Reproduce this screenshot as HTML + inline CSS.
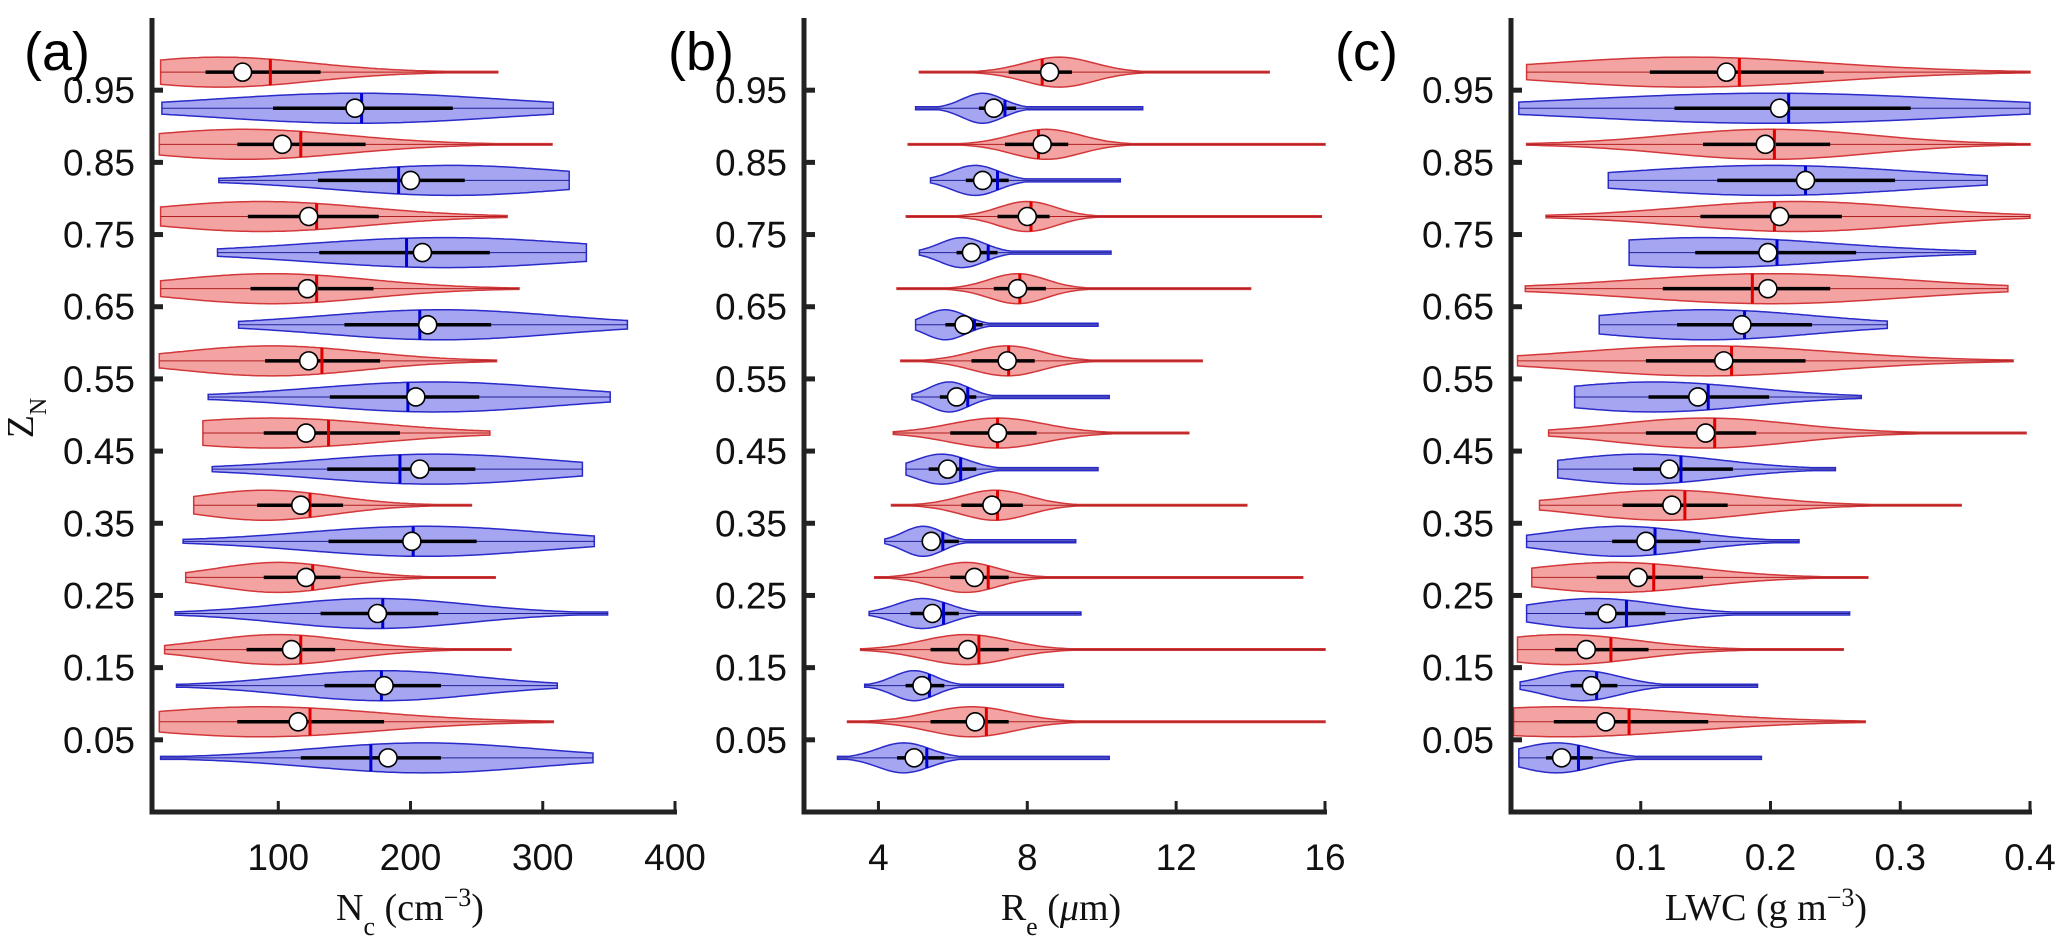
<!DOCTYPE html>
<html><head><meta charset="utf-8">
<style>
html,body{margin:0;padding:0;background:#fff;}
svg{display:block;}
.tick{font-family:"Liberation Sans",Arial,sans-serif;font-size:37px;fill:#111;}
.ax{font-family:"Liberation Serif","Times New Roman",serif;font-size:38px;fill:#111;}
.pl{font-family:"Liberation Sans",Arial,sans-serif;font-size:54px;fill:#000;}
</style></head>
<body>
<svg id="chart" width="2067" height="940" viewBox="0 0 2067 940" xmlns="http://www.w3.org/2000/svg"></svg>
<script>
// ---- data (top violin z=0.975 to bottom z=0.025; red/blue alternate) ----
const zCenters = [0.975,0.925,0.875,0.825,0.775,0.725,0.675,0.625,0.575,0.525,0.475,0.425,0.375,0.325,0.275,0.225,0.175,0.125,0.075,0.025];
const yTicks = [0.05,0.15,0.25,0.35,0.45,0.55,0.65,0.75,0.85,0.95];
const yTickLabels = ["0.05","0.15","0.25","0.35","0.45","0.55","0.65","0.75","0.85","0.95"];

// panel (a) Nc
const ncMin  = [11,12,10,55,11,54,11,70,10,47,43,50,36,28,30,22,14,23,10,11];
const ncMax  = [266,308,307,320,273,333,282,364,265,351,260,330,246,339,264,349,276,311,308,338];
const ncQ1   = [45,96,69,130,77,131,79,150,90,139,89,137,84,138,89,132,76,135,69,117];
const ncQ3   = [132,232,166,241,176,260,172,261,177,252,192,249,149,250,147,221,143,223,180,223];
const ncMed  = [94,163,117,191,129,197,129,207,133,198,138,192,124,202,126,179,117,178,124,170];
const ncMean = [73,158,103,200,123,209,122,213,123,204,121,207,117,201,121,175,110,180,115,183];
const ncMode = [56,160,74,231,87,226,95,223,95,218,95,218,90,210,100,173,100,179,87,210];
const ncTicks = [100,200,300,400];

// panel (b) Re
const reMin  = [5.1,5.0,4.8,5.4,4.75,5.1,4.5,5.0,4.6,4.9,4.4,4.74,4.35,4.17,3.9,3.75,3.52,3.63,3.17,2.9];
const reMax  = [14.5,11.1,16.0,10.5,15.9,10.25,14.0,9.9,12.7,10.2,12.34,9.9,13.9,9.3,15.4,9.44,16.0,8.97,16.0,10.2];
const reQ1   = [7.5,6.7,7.4,6.35,7.2,6.1,7.1,5.8,6.5,5.65,5.93,5.35,6.23,5.19,5.93,4.86,5.4,4.73,5.4,4.5];
const reQ3   = [9.2,7.7,9.1,7.5,8.6,7.2,8.5,6.8,8.2,6.63,8.25,6.63,7.88,6.16,7.5,6.16,7.5,5.77,7.5,5.77];
const reMed  = [8.4,7.4,8.3,7.2,8.1,6.95,7.8,6.58,7.5,6.4,7.2,6.21,7.2,5.73,6.95,5.75,6.7,5.37,6.9,5.3];
const reMean = [8.6,7.1,8.4,6.8,8.0,6.5,7.74,6.3,7.46,6.1,7.2,5.86,7.05,5.42,6.58,5.45,6.4,5.17,6.6,4.96];
const reMode = [8.86,6.8,8.5,6.6,8.0,6.25,7.74,5.8,7.46,5.9,7.2,5.7,7.14,5.2,6.35,5.19,6.35,4.96,6.5,4.68];
const reTicks = [4,8,12,16];

// panel (c) LWC
const lwMin  = [0.012,0.006,0.012,0.075,0.027,0.091,0.011,0.068,0.005,0.049,0.029,0.036,0.022,0.012,0.016,0.012,0.005,0.007,0.002,0.006];
const lwMax  = [0.4,0.4,0.4,0.367,0.4,0.358,0.383,0.29,0.387,0.27,0.397,0.25,0.347,0.222,0.275,0.261,0.256,0.19,0.273,0.193];
const lwQ1   = [0.107,0.126,0.148,0.159,0.146,0.142,0.117,0.128,0.104,0.106,0.104,0.094,0.086,0.078,0.066,0.057,0.034,0.046,0.033,0.027];
const lwQ3   = [0.241,0.308,0.246,0.296,0.255,0.266,0.246,0.232,0.227,0.199,0.189,0.171,0.167,0.146,0.148,0.119,0.106,0.082,0.152,0.063];
const lwMed  = [0.176,0.214,0.203,0.227,0.203,0.205,0.186,0.18,0.17,0.152,0.157,0.131,0.134,0.111,0.11,0.089,0.077,0.066,0.091,0.052];
const lwMean = [0.166,0.207,0.196,0.227,0.207,0.198,0.198,0.178,0.164,0.144,0.15,0.122,0.124,0.104,0.098,0.074,0.058,0.062,0.073,0.039];
const lwMode = [0.137,0.2,0.2,0.2,0.22,0.15,0.2,0.15,0.15,0.11,0.15,0.1,0.12,0.085,0.08,0.065,0.04,0.055,0.04,0.035];
const lwTicks = [0.1,0.2,0.3,0.4];
const lwTickLabels = ["0.1","0.2","0.3","0.4"];

// ---- layout ----
const NS = "http://www.w3.org/2000/svg";
const svg = document.getElementById('chart');
const AX_TOP = 18, AX_BOT = 812;
function yScale(z){ return AX_BOT - (z + 0.05) * (AX_BOT - AX_TOP) / 1.1; }
function mk(tag, attrs, parent){
  const e = document.createElementNS(NS, tag);
  for (const k in attrs) e.setAttribute(k, attrs[k]);
  (parent || svg).appendChild(e);
  return e;
}

function panel(cfg){
  const g = mk('g', {});
  
  
  const xs = v => cfg.x0 + (v - cfg.vmin) * (cfg.x1 - cfg.x0) / (cfg.vmax - cfg.vmin);
  const H = 15;
  for (let i = 0; i < zCenters.length; i++){
    const red = i % 2 === 0;
    const cy = yScale(zCenters[i]);
    const mn = cfg.min[i], mx = Math.min(cfg.max[i], cfg.vmax), q1 = cfg.q1[i], q3 = cfg.q3[i];
    const mode = cfg.mode[i];
    const s = Math.max(cfg.spread * (q3 - q1), (cfg.vmax - cfg.vmin) * 0.02);
    const hf = v => H * Math.max(red ? 0.05 : 0.1, Math.exp(-0.5 * Math.pow((v - mode) / s, 2)));
    const N = 90, top = [], bot = [];
    for (let k = 0; k <= N; k++){
      const v = mn + (mx - mn) * k / N;
      const h = hf(v);
      top.push(xs(v).toFixed(1) + ',' + (cy - h).toFixed(1));
      bot.unshift(xs(v).toFixed(1) + ',' + (cy + h).toFixed(1));
    }
    const vg = mk('g', {}, g);
    
    
    const body = mk('path', {d: 'M' + top.join(' L') + ' L' + bot.join(' L') + ' Z',
      fill: red ? '#f4a3a3' : '#a5a5f2', stroke: red ? '#d2383a' : '#2a2ac8', 'stroke-width': 1.5}, vg);
    
    
    const wh = mk('line', {x1: xs(mn), x2: xs(mx), y1: cy, y2: cy, stroke: red ? '#b02020' : '#20209a', 'stroke-width': 1}, vg);
    
    
    const iq = mk('line', {x1: xs(q1), x2: xs(q3), y1: cy, y2: cy, stroke: '#000', 'stroke-width': 3.5}, vg);
    
    
    const md = cfg.med[i], mh = hf(md);
    const ml = mk('line', {x1: xs(md), x2: xs(md), y1: cy - mh, y2: cy + mh, stroke: red ? '#e00000' : '#0000d0', 'stroke-width': 3}, vg);
    
    
    const mc = mk('circle', {cx: xs(cfg.mean[i]), cy: cy, r: 9, fill: '#fff', stroke: '#000', 'stroke-width': 1.6}, vg);
    
    
  }
  const ya = mk('line', {x1: cfg.x0, x2: cfg.x0, y1: AX_TOP, y2: AX_BOT + 2.5, stroke: '#222', 'stroke-width': 5}, g);
  
  
  const xa = mk('line', {x1: cfg.x0 - 2.5, x2: cfg.x1 + 2, y1: AX_BOT, y2: AX_BOT, stroke: '#222', 'stroke-width': 5}, g);
  
  
  for (let j = 0; j < yTicks.length; j++){
    const y = yScale(yTicks[j]);
    const t = mk('line', {x1: cfg.x0, x2: cfg.x0 + 11, y1: y, y2: y, stroke: '#222', 'stroke-width': 5}, g);
    
    
    const lb = mk('text', {x: cfg.x0 - 17, y: y + 13, 'text-anchor': 'end', class: 'tick'}, g);
    lb.textContent = yTickLabels[j];
    
    
  }
  for (let j = 0; j < cfg.ticks.length; j++){
    const x = xs(cfg.ticks[j]);
    const t = mk('line', {x1: x, x2: x, y1: AX_BOT, y2: AX_BOT - 11, stroke: '#222', 'stroke-width': 3}, g);
    
    
    const lb = mk('text', {x: x, y: 870, 'text-anchor': 'middle', class: 'tick'}, g);
    lb.textContent = cfg.tickLabels[j];
    
    
  }
  const xl = mk('text', {x: cfg.labelX, y: 920, 'text-anchor': 'middle', class: 'ax'}, g);
  xl.innerHTML = cfg.xlabel;
  
  
  const pl = mk('text', {x: cfg.plX, y: 70, class: 'pl'}, g);
  pl.textContent = cfg.pl;
  
  
}

panel({name: 'panel-a-nc', x0: 152, x1: 675, vmin: 4.5, vmax: 400, spread: 0.8, min: ncMin, max: ncMax, q1: ncQ1, q3: ncQ3, med: ncMed, mean: ncMean, mode: ncMode,
  ticks: ncTicks, tickLabels: ncTicks.map(String), labelX: 410, plX: 24, pl: '(a)',
  xlabel: 'N<tspan baseline-shift="sub" font-size="26">c</tspan> (cm<tspan baseline-shift="super" font-size="26">−3</tspan>)'});
panel({name: 'panel-b-re', x0: 804, x1: 1325, vmin: 2, vmax: 16, spread: 0.55, min: reMin, max: reMax, q1: reQ1, q3: reQ3, med: reMed, mean: reMean, mode: reMode,
  ticks: reTicks, tickLabels: reTicks.map(String), labelX: 1061, plX: 668, pl: '(b)',
  xlabel: 'R<tspan baseline-shift="sub" font-size="26">e</tspan> (<tspan font-style="italic">μ</tspan>m)'});
panel({name: 'panel-c-lwc', x0: 1511, x1: 2030, vmin: 0, vmax: 0.4, spread: 0.8, min: lwMin, max: lwMax, q1: lwQ1, q3: lwQ3, med: lwMed, mean: lwMean, mode: lwMode,
  ticks: lwTicks, tickLabels: lwTickLabels, labelX: 1766, plX: 1335, pl: '(c)',
  xlabel: 'LWC (g m<tspan baseline-shift="super" font-size="26">−3</tspan>)'});

const zl = mk('text', {x: 0, y: 0, transform: 'translate(33,418) rotate(-90)', 'text-anchor': 'middle', class: 'ax'});
zl.innerHTML = 'Z<tspan baseline-shift="sub" font-size="24">N</tspan>';


</script>
</body></html>
